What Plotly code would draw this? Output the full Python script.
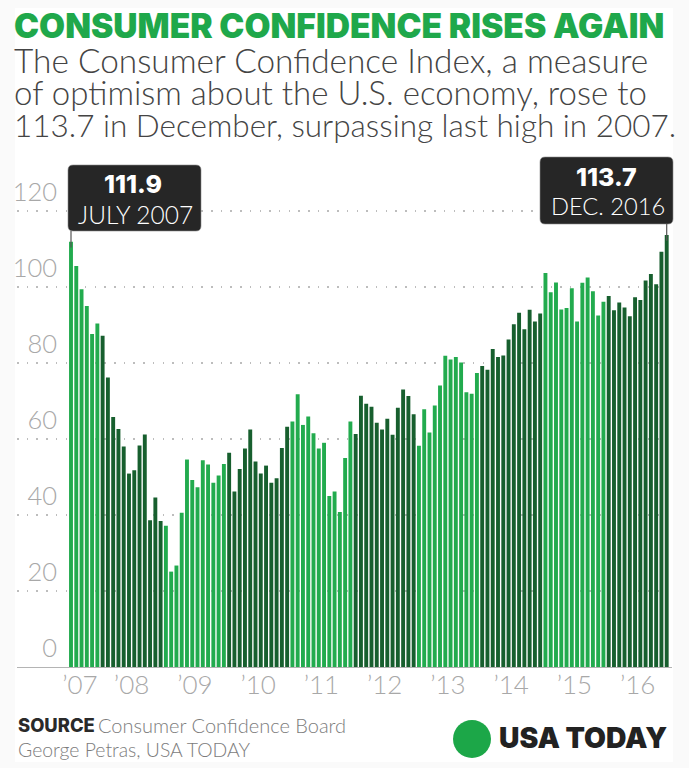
import plotly.graph_objects as go

# ---- data -------------------------------------------------------------
values_2007 = [111.9, 105.5, 99.4, 95.0, 87.6, 90.4]
values_2008 = [87.2, 76.2, 65.8, 62.6, 58.0, 50.9, 51.8, 58.3, 61.2, 38.6, 44.6, 38.4]
values_2009 = [37.2, 25.1, 26.7, 40.6, 54.6, 49.2, 47.3, 54.4, 53.3, 48.5, 50.4, 53.4]
values_2010 = [56.4, 46.2, 52.1, 57.5, 62.5, 54.1, 50.9, 53.0, 48.5, 49.7, 57.6, 63.2]
values_2011 = [64.6, 71.8, 63.7, 65.9, 61.5, 57.5, 59.0, 45.0, 46.2, 40.8, 55.0, 64.6]
values_2012 = [61.3, 71.4, 69.3, 68.5, 64.3, 62.5, 65.3, 61.1, 68.2, 73.0, 71.3, 66.5]
values_2013 = [58.2, 67.8, 61.7, 68.8, 74.1, 81.9, 80.9, 81.6, 80.1, 72.3, 71.9, 77.4]
values_2014 = [79.2, 78.2, 83.7, 81.6, 82.0, 86.2, 90.2, 93.2, 88.9, 94.0, 90.9, 93.0]
values_2015 = [103.7, 98.6, 101.2, 94.1, 94.5, 99.7, 90.9, 101.1, 102.5, 98.9, 92.5, 96.1]
values_2016 = [97.6, 93.9, 95.9, 94.6, 92.3, 97.3, 96.6, 101.7, 103.4, 100.7, 109.3, 113.7]
year_groups = [values_2007, values_2008, values_2009, values_2010, values_2011,
               values_2012, values_2013, values_2014, values_2015, values_2016]
year_labels = ["’07", "’08", "’09", "’10", "’11", "’12", "’13", "’14", "’15", "’16"]
y_ticks = [0, 20, 40, 60, 80, 100, 120]

LIGHT = "#22ab4e"
DARK = "#175f2e"
FONT = "Lato"
HEAVY = "Inter"

# ---- layout helpers: reference pixels -> paper coords --------------------
W, H = 689, 768
L, R, T, B = 17, 672, 150, 667
def px(x): return (x - L) / (R - L)
def py(y): return (B - y) / (B - T)

def round_box(x0, y0, x1, y1, r=5):
    return (f"M {px(x0+r)},{py(y0)} L {px(x1-r)},{py(y0)} Q {px(x1)},{py(y0)} {px(x1)},{py(y0+r)} "
            f"L {px(x1)},{py(y1-r)} Q {px(x1)},{py(y1)} {px(x1-r)},{py(y1)} "
            f"L {px(x0+r)},{py(y1)} Q {px(x0)},{py(y1)} {px(x0)},{py(y1-r)} "
            f"L {px(x0)},{py(y0+r)} Q {px(x0)},{py(y0)} {px(x0+r)},{py(y0)} Z")

# ---- bars ----------------------------------------------------------------
xs, ys, cols, tick_pos = [], [], [], []
i = 0
for g, vals in enumerate(year_groups):
    tick_pos.append(i + (len(vals) - 1) / 2)
    for v in vals:
        xs.append(i)
        ys.append(v)
        cols.append(LIGHT if g % 2 == 0 else DARK)
        i += 1
n = len(xs)
tick_pos[0] = 1.7

step = (666.7 - 71) / (n - 1)
xrange = [-(71 - L) / step, (R - 71) / step]
yscale = 3.8
yrange = [0, (B - T) / yscale]

fig = go.Figure(go.Bar(x=xs, y=ys, marker=dict(color=cols, line_width=0), hoverinfo="skip"))

def text(x, y, s, size, color, weight=400, anchor="left", family=FONT):
    return dict(xref="paper", yref="paper", x=px(x), y=py(y), text=s, showarrow=False,
                xanchor=anchor, yanchor="middle", align=anchor,
                font=dict(family=family, size=size, color=color, weight=weight))

annotations = [
    text(12, 26, "CONSUMER CONFIDENCE RISES AGAIN", 33.6, "#1fa84b", 900, family=HEAVY),
    text(12, 60, "The Consumer Confidence Index, a measure", 33.4, "#444444", 300),
    text(12, 92, "of optimism about the U.S. economy, rose to", 33, "#444444", 300),
    text(12, 125, "113.7 in December, surpassing last high in 2007.", 31.5, "#444444", 300),
    text(132.5, 184, f"{values_2007[0]}", 25, "#ffffff", 800, "center", HEAVY),
    text(135.5, 214, "JULY 2007", 24.5, "#ffffff", 300, "center"),
    text(606, 177, f"{values_2016[-1]}", 25, "#ffffff", 800, "center", HEAVY),
    text(607.5, 206, "DEC. 2016", 23.7, "#ffffff", 300, "center"),
    text(16, 724.5, "SOURCE", 18.4, "#2a2a2a", 800, family=HEAVY),
    text(96, 724.5, "Consumer Confidence Board", 20, "#7c7c7c", 300),
    text(16, 749, "George Petras, USA TODAY", 19.4, "#7c7c7c", 300),
    text(497, 738, "USA TODAY", 28.3, "#222222", 900, family=HEAVY),
]

shapes = [
    dict(type="rect", xref="paper", yref="paper", x0=px(15), x1=px(673), y0=py(762), y1=py(8),
         fillcolor="#ffffff", line_width=0, layer="below"),
    dict(type="path", xref="paper", yref="paper", path=round_box(68, 165, 201, 231),
         fillcolor="#262626", line=dict(color="#8c8c8c", width=0.6), layer="above"),
    dict(type="path", xref="paper", yref="paper", path=round_box(540, 157, 673, 224),
         fillcolor="#262626", line=dict(color="#8c8c8c", width=0.6), layer="above"),
    dict(type="line", xref="x", yref="y", x0=0, x1=0, y0=values_2007[0] - 1.5, y1=(B - 231) / yscale,
         line=dict(color="#555555", width=1.2), layer="above"),
    dict(type="line", xref="x", yref="y", x0=n - 1, x1=n - 1, y0=values_2016[-1] - 1.5, y1=(B - 224) / yscale,
         line=dict(color="#555555", width=1.2), layer="above"),
    dict(type="circle", xref="paper", yref="paper", x0=px(453), x1=px(491), y0=py(758), y1=py(720),
         fillcolor="#1ca748", line_width=0, layer="above"),
]

fig.update_layout(
    width=W, height=H, autosize=False,
    margin=dict(l=L, r=W - R, t=T, b=H - B, pad=0),
    paper_bgcolor="#fafafa", plot_bgcolor="#ffffff",
    bargap=0.26, showlegend=False,
    annotations=annotations, shapes=shapes,
    font=dict(family=FONT),
    xaxis=dict(range=xrange, tickmode="array", tickvals=tick_pos, ticktext=year_labels,
               showgrid=False, zeroline=False, showline=True, linecolor="#b4b4b4", linewidth=1.2,
               ticks="", ticklabelstandoff=-5,
               tickfont=dict(family=FONT, size=26, color="#a8a8a8", weight=300)),
    yaxis=dict(range=yrange, tickmode="array", tickvals=y_ticks, anchor="free", position=px(57),
               showgrid=True, gridcolor="#bdbdbd", griddash="1.5px,8.2px", gridwidth=1.5,
               zeroline=False, showline=False, ticks="", ticklabelshift=-19,
               tickfont=dict(family=FONT, size=25.5, color="#a8a8a8", weight=300)),
)

fig.write_html("out.html", config=dict(displayModeBar=False),
               post_script="document.body.style.margin='0';")
